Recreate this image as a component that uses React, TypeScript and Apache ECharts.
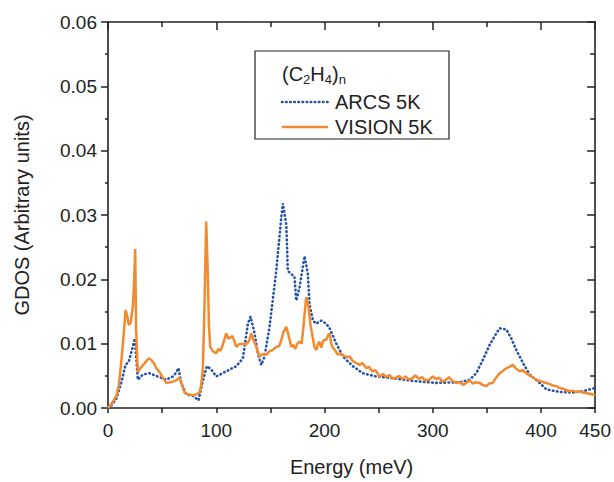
import React, { useEffect, useRef } from "react";
import * as echarts from "echarts";

const arcsEnergy = [0, 3, 7.6, 12.2, 16.2, 19.2, 22.9, 24.8, 26, 27.6, 32.2, 38.3, 46, 53.8, 59.9, 63, 65.1, 67.6, 72.3, 78.4, 83.6, 87.6, 91.3, 95.4, 100, 109.2, 118.5, 124.6, 129.2, 131.7, 135.4, 138.4, 141.6, 144.6, 149.2, 155.4, 160, 161.5, 164.7, 166.1, 172.3, 173.9, 177, 181.6, 184.6, 186.2, 189.3, 192.4, 197, 201.6, 204.7, 210.9, 217, 226.2, 235.4, 247.8, 260.1, 281.6, 303.3, 324.8, 334, 340.2, 346.3, 352.5, 358.7, 361.8, 368, 372.6, 377.2, 383.3, 389.5, 398.7, 404.9, 417.2, 429.5, 438.7, 444.9, 449.5];
const arcsGdos = [0, 0.0004, 0.0014, 0.0039, 0.0067, 0.0072, 0.0095, 0.0108, 0.008, 0.0044, 0.0052, 0.0054, 0.0049, 0.0044, 0.0049, 0.0055, 0.0062, 0.0039, 0.0021, 0.0019, 0.0012, 0.0042, 0.0065, 0.006, 0.0049, 0.0057, 0.0065, 0.0077, 0.0131, 0.0142, 0.0116, 0.0085, 0.0067, 0.008, 0.0126, 0.0213, 0.0295, 0.0318, 0.0285, 0.0213, 0.0204, 0.0167, 0.0188, 0.0236, 0.0208, 0.016, 0.0136, 0.0131, 0.0136, 0.0131, 0.0124, 0.01, 0.008, 0.0065, 0.0054, 0.0049, 0.0047, 0.0042, 0.0039, 0.004, 0.0044, 0.0054, 0.0075, 0.0098, 0.0116, 0.0124, 0.0122, 0.0108, 0.009, 0.007, 0.0052, 0.0039, 0.0029, 0.0025, 0.0024, 0.0026, 0.0029, 0.0031];

const visionEnergy = [0, 3, 7.6, 10, 12.2, 14.3, 16.2, 17.5, 19.2, 21, 22.9, 24, 25.1, 26, 27.6, 30, 33, 36, 37.7, 40, 43, 44.5, 48, 51, 53.8, 57, 60, 63, 66, 68, 70.7, 73, 75.3, 78, 81, 84.5, 86, 87.6, 89, 90.7, 92, 93.2, 94.4, 97, 100, 102, 104, 106, 109.2, 111, 113.8, 115, 118.5, 121, 124.6, 127, 130, 132.3, 134, 137, 140, 143, 146.2, 149, 152, 155.4, 158, 160, 162, 164.7, 166.5, 169.3, 171, 173, 175, 177, 179, 181, 183.1, 185, 187, 189.3, 190.5, 192.4, 194, 195.4, 197, 199, 201.6, 203, 204.7, 206.2, 208, 210, 212.3, 215, 218, 221, 223.2, 226, 229, 232.4, 235, 238.6, 241, 244, 247, 250.9, 254, 257, 260, 263, 266.3, 269, 272, 275, 278, 281.6, 284, 287, 290, 293, 297, 300, 303, 306, 309, 312.5, 315, 318, 321.7, 325, 328, 331, 334, 337, 340, 343.3, 346, 349.5, 352, 355.6, 358, 361.8, 365, 368, 371, 374, 377, 380.2, 383, 386.4, 390, 393, 395.7, 399, 402, 404.9, 408, 411, 414.2, 417, 420, 423, 426.4, 429, 432, 435, 438.8, 442, 445, 448, 450];
const visionGdos = [0, 0.0006, 0.0018, 0.0035, 0.007, 0.011, 0.0152, 0.0145, 0.0129, 0.0133, 0.0157, 0.019, 0.0247, 0.012, 0.0056, 0.0062, 0.0068, 0.0074, 0.0077, 0.0075, 0.0068, 0.0062, 0.0055, 0.0046, 0.0039, 0.004, 0.0041, 0.0043, 0.0047, 0.0038, 0.0024, 0.0022, 0.0021, 0.002, 0.0021, 0.0024, 0.0035, 0.006, 0.015, 0.029, 0.022, 0.013, 0.0095, 0.0088, 0.0085, 0.0092, 0.0089, 0.0098, 0.0116, 0.0108, 0.011, 0.0112, 0.0095, 0.0099, 0.01, 0.0098, 0.0103, 0.0116, 0.0107, 0.0095, 0.008, 0.0084, 0.0083, 0.0088, 0.009, 0.0095, 0.0096, 0.0105, 0.0118, 0.0126, 0.0115, 0.0095, 0.0098, 0.0092, 0.01, 0.0103, 0.01, 0.0135, 0.0172, 0.016, 0.013, 0.0108, 0.0096, 0.009, 0.01, 0.0103, 0.0094, 0.0105, 0.0106, 0.0112, 0.0116, 0.01, 0.0093, 0.0089, 0.0083, 0.0085, 0.0081, 0.0079, 0.008, 0.0073, 0.007, 0.0067, 0.007, 0.0062, 0.0064, 0.0057, 0.0059, 0.0049, 0.0053, 0.0048, 0.0051, 0.0046, 0.0047, 0.005, 0.0045, 0.0049, 0.0044, 0.0047, 0.0051, 0.0045, 0.0048, 0.0043, 0.0044, 0.0049, 0.0045, 0.0047, 0.0041, 0.0044, 0.0048, 0.0042, 0.0039, 0.004, 0.0036, 0.0039, 0.0043, 0.0038, 0.004, 0.0039, 0.0036, 0.0034, 0.0038, 0.0039, 0.0046, 0.0054, 0.0058, 0.0062, 0.0064, 0.0067, 0.0061, 0.0057, 0.0059, 0.0054, 0.005, 0.0047, 0.0044, 0.0042, 0.004, 0.0039, 0.0037, 0.0035, 0.0034, 0.0031, 0.003, 0.0028, 0.0026, 0.0027, 0.0025, 0.0026, 0.0024, 0.0023, 0.0022, 0.0021, 0.002];

const xTickLabels = ["0", "100", "200", "300", "400", "450"];
const seriesNames = ["ARCS 5K", "VISION 5K"];
const FONT = "'Liberation Sans', Arial, Helvetica, sans-serif";
const INK = "#222222";
const ARCS_COLOR = "#2352a8";
const VISION_COLOR = "#f28a30";

const mkLine = () => ({ show: true, onZero: false, lineStyle: { color: INK, width: 1.6 } });
const mkTick = (inside: boolean, length: number) => ({
  show: true,
  inside,
  length,
  lineStyle: { color: INK, width: 1.5 },
});
const mkMinor = (length: number) => ({
  show: true,
  splitNumber: 2,
  length,
  lineStyle: { color: INK, width: 1.5 },
});

export default function App() {
  const ref = useRef<HTMLDivElement>(null);
  useEffect(() => {
    if (!ref.current) return;
    const chart = echarts.init(ref.current, undefined, { renderer: "svg" });
    const arcs = arcsEnergy.map((e, i) => [e, arcsGdos[i]]);
    const vision = visionEnergy.map((e, i) => [e, visionGdos[i]]);
    chart.setOption({
      animation: false,
      backgroundColor: "#ffffff",
      textStyle: { fontFamily: FONT },
      grid: { left: 108, right: 17, top: 22, bottom: 70, containLabel: false },
      xAxis: [
        {
          type: "value",
          min: 0,
          max: 450,
          interval: 50,
          axisLine: mkLine(),
          axisTick: mkTick(false, 5),
          axisLabel: {
            color: INK,
            fontSize: 19,
            fontFamily: FONT,
            margin: 13,
            formatter: (v: number) => (xTickLabels.includes(String(v)) ? String(v) : ""),
          },
          splitLine: { show: false },
          name: "Energy (meV)",
          nameLocation: "middle",
          nameGap: 49,
          nameTextStyle: { color: INK, fontSize: 20, fontFamily: FONT },
        },
        {
          type: "value",
          position: "top",
          min: 0,
          max: 450,
          interval: 100,
          axisLine: mkLine(),
          axisTick: mkTick(true, 8),
          minorTick: mkMinor(5),
          axisLabel: { show: false },
          splitLine: { show: false },
        },
      ],
      yAxis: [
        {
          type: "value",
          min: 0,
          max: 0.06,
          interval: 0.01,
          axisLine: mkLine(),
          axisTick: mkTick(false, 7),
          minorTick: mkMinor(3),
          axisLabel: {
            color: INK,
            fontSize: 19,
            fontFamily: FONT,
            margin: 11,
            formatter: (v: number) => v.toFixed(2),
          },
          splitLine: { show: false },
          name: "GDOS (Arbitrary units)",
          nameLocation: "middle",
          nameGap: 76,
          nameTextStyle: { color: INK, fontSize: 20, fontFamily: FONT },
        },
        {
          type: "value",
          position: "right",
          min: 0,
          max: 0.06,
          interval: 0.01,
          axisLine: mkLine(),
          axisTick: mkTick(true, 8),
          minorTick: mkMinor(5),
          axisLabel: { show: false },
          splitLine: { show: false },
        },
      ],
      series: [
        {
          name: seriesNames[0],
          type: "line",
          data: arcs,
          showSymbol: false,
          lineStyle: { color: ARCS_COLOR, width: 2.6, type: [0.5, 3.6], cap: "round" },
          z: 2,
        },
        {
          name: seriesNames[1],
          type: "line",
          data: vision,
          showSymbol: false,
          lineStyle: { color: VISION_COLOR, width: 2.5 },
          z: 3,
        },
      ],
      graphic: [
        {
          type: "rect",
          shape: { x: 255, y: 51, width: 194, height: 88 },
          style: { fill: "#ffffff", stroke: INK, lineWidth: 1.2 },
          z: 10,
        },
        {
          type: "text",
          x: 282,
          y: 61,
          z: 11,
          style: {
            text: "(C{s|2}H{s|4}){s|n}",
            fill: INK,
            font: `20px ${FONT}`,
            rich: {
              s: { fontSize: 13, fontFamily: FONT, fill: INK, padding: [12, 0, 0, 0] },
            },
          },
        },
        {
          type: "line",
          shape: { x1: 282, y1: 102, x2: 328, y2: 102 },
          style: { stroke: ARCS_COLOR, lineWidth: 2.6, lineDash: [0.5, 3.6], lineCap: "round" },
          z: 11,
        },
        {
          type: "text",
          x: 335,
          y: 102,
          z: 11,
          style: { text: seriesNames[0], fill: INK, font: `20px ${FONT}`, verticalAlign: "middle" },
        },
        {
          type: "line",
          shape: { x1: 282, y1: 127, x2: 328, y2: 127 },
          style: { stroke: VISION_COLOR, lineWidth: 2.5 },
          z: 11,
        },
        {
          type: "text",
          x: 335,
          y: 127,
          z: 11,
          style: { text: seriesNames[1], fill: INK, font: `20px ${FONT}`, verticalAlign: "middle" },
        },
      ],
    });
    return () => chart.dispose();
  }, []);
  return (
    <div
      ref={ref}
      style={{ position: "fixed", left: 0, top: 0, width: 614, height: 482 }}
    />
  );
}
